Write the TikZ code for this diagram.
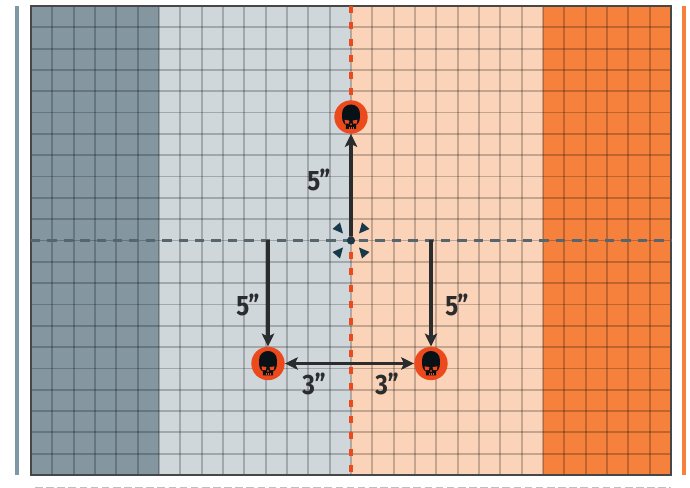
\documentclass[tikz,border=0pt]{standalone}
\usepackage{fontspec}
\setmainfont{Fira Sans}
\usepackage{xcolor}
\usetikzlibrary{arrows.meta}
\definecolor{deepcol}{HTML}{84969F}
\definecolor{palecol}{HTML}{CFD7DB}
\definecolor{peachcol}{HTML}{FAD3B8}
\definecolor{flamecol}{HTML}{F6813D}
\definecolor{sidecol}{HTML}{7F98A8}
\definecolor{skullcol}{HTML}{EC4A1C}
\definecolor{inkcol}{HTML}{2A2C2E}
\definecolor{tealcol}{HTML}{17394A}
\definecolor{hazecol}{HTML}{56666E}
\tikzset{
  % orange disc under a skull
  objective/.style={circle, fill=skullcol, inner sep=0pt, minimum size=28.5pt},
  % measured move
  move/.style={draw=inkcol, line width=2.6pt, -{Stealth[length=11pt,width=10.5pt,inset=2.5pt]}},
  % distance text
  dist/.style={font=\fontsize{24}{24}\selectfont\bfseries, text=inkcol, xscale=0.86, inner sep=0pt},
  % skull glyph
  skull/.pic={
    \fill[skullblack] (-5,12) -- (-5.2,8) .. controls (-9,6) and (-9,1) .. (-9,-3)
      .. controls (-9,-9) and (-5,-12.5) .. (0,-12.5)
      .. controls (5,-12.5) and (9,-9) .. (9,-3)
      .. controls (9,1) and (9,6) .. (5.2,8) -- (5,12) -- cycle;
    \fill[skullcol] (-6.5,2.8) -- (-1.6,3.6) -- (-2.2,6.6) -- (-5.8,6.6) -- cycle;
    \fill[skullcol] (6.5,2.8) -- (1.6,3.6) -- (2.2,6.6) -- (5.8,6.6) -- cycle;
    \fill[skullcol] (0,6) -- (1.2,8.2) -- (-1.2,8.2) -- cycle;
    \foreach \t in {-2.2,0,2.2}
      \draw[skullcol, line width=0.5pt] (\t,9.6) -- (\t,12);
  },
}
\colorlet{skullblack}{black!70!tealcol}
\newcommand{\gridlines}{%
  \foreach \i in {1,...,29}
    \draw[black, opacity=0.22, line width=1.5pt] ({31+\i*21.333},6) -- ({31+\i*21.333},475);
  \foreach \j in {1,...,21}
    \draw[black, opacity=0.22, line width=1.5pt] (31,{6+\j*21.318}) -- (671,{6+\j*21.318});
}
\begin{document}
\begin{tikzpicture}[x=0.03cm, y=-0.03cm]
  \useasboundingbox (0,0) rectangle (690,488);
  % table bands
  \fill[deepcol]  (31,6)  rectangle (159,475);
  \fill[palecol]  (159,6) rectangle (351,475);
  \fill[peachcol] (351,6) rectangle (543,475);
  \fill[flamecol] (543,6) rectangle (671,475);
  \gridlines
  \draw[black!72, line width=2pt] (31,6) rectangle (671,475);
  % side bars and lower edge
  \fill[sidecol]  (15,6) rectangle (19,475);
  \fill[flamecol] (682,6) rectangle (686,475);
  \draw[black!25, line width=2pt, dash pattern=on 6.5pt off 3pt] (35,488) -- (671,488);
  % centre lines
  \draw[skullcol, line width=3pt, dash pattern=on 6pt off 8pt] (351,6) -- (351,475);
  \draw[hazecol, line width=2.6pt, dash pattern=on 8pt off 6pt] (31,240.5) -- (671,240.5);
  % objectives
  \node[objective] (skulltop)   at (351,117) {};
  \node[objective] (skullleft)  at (268,363.5) {};
  \node[objective] (skullright) at (431,363.5) {};
  \pic at (skulltop) {skull};
  \pic at (skullleft) {skull};
  \pic at (skullright) {skull};
  % centre marker
  \node[circle, fill=tealcol, inner sep=0pt, minimum size=7pt] (centre) at (351,240.5) {};
  \foreach \sx/\sy in {-1/-1,1/-1,-1/1,1/1}
    \fill[tealcol] ({351+\sx*8},{240.5+\sy*7}) -- ({351+\sx*18.5},{240.5+\sy*11.5})
      -- ({351+\sx*11},{240.5+\sy*18}) -- cycle;
  % moves
  \coordinate (footleft)  at (268,240.5);
  \coordinate (footright) at (431,240.5);
  \draw[move] (centre) -- (skulltop);
  \draw[move] (footleft) -- (skullleft);
  \draw[move] (footright) -- (skullright);
  \draw[move, {Stealth[length=11pt,width=10.5pt,inset=2.5pt]}-{Stealth[length=11pt,width=10.5pt,inset=2.5pt]}]
    (skullleft) -- (skullright);
  % distances
  \node[dist] (disttop)   at (319,180) {5”};
  \node[dist] (distleft)  at (248,305) {5”};
  \node[dist] (distright) at (457,305) {5”};
  \node[dist] (distlow)   at (314,384) {3”};
  \node[dist] (distlower) at (387,384) {3”};
\end{tikzpicture}
\end{document}
